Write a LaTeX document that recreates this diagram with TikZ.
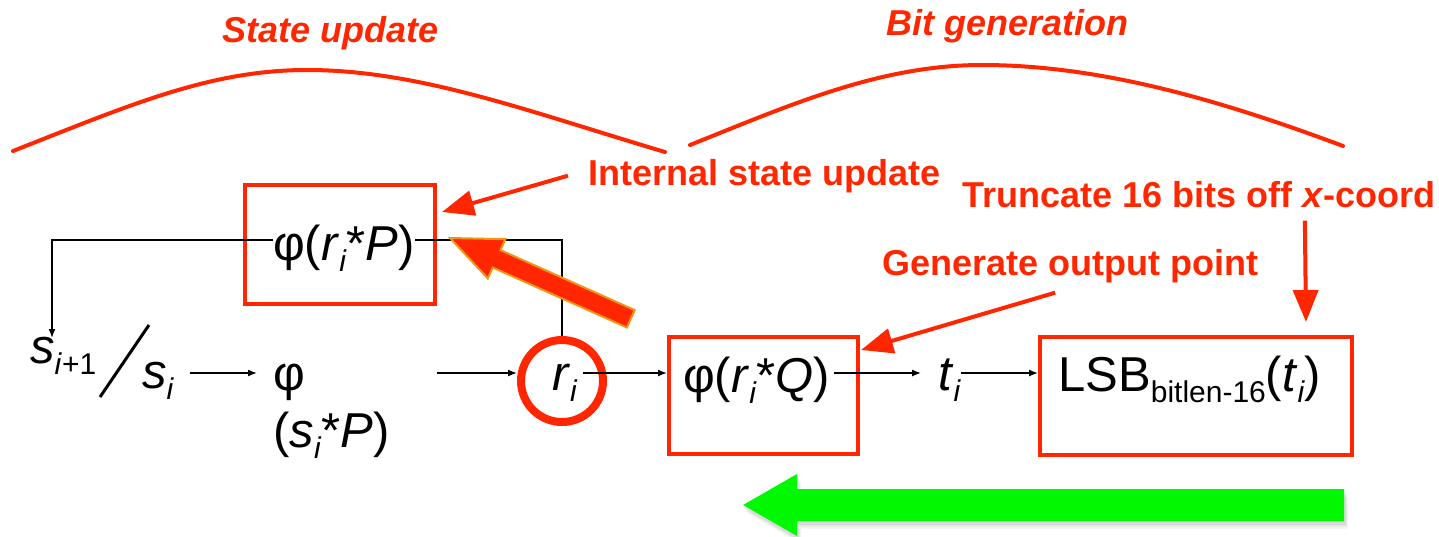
\documentclass[tikz,border=0pt]{standalone}
\usepackage{fontspec}
\setmainfont{Liberation Sans}
\usetikzlibrary{arrows.meta,calc}
\definecolor{ared}{RGB}{255,38,0}
\definecolor{agreen}{RGB}{0,249,0}
\definecolor{aorange}{RGB}{236,150,20}
\newcommand\mysub[1]{\raisebox{-11pt}{\fontsize{30}{30}\selectfont #1}}
\begin{document}
\begin{tikzpicture}[x=1pt,y=-1pt,
  txt/.style={inner sep=0pt, anchor=base west, font=\fontsize{49}{56}\selectfont},
  note/.style={inner sep=0pt, anchor=base west, text=ared, font=\fontsize{36}{42}\selectfont\bfseries},
  notei/.style={note, font=\fontsize{36}{42}\selectfont\bfseries\itshape},
  box/.style={draw=ared, line width=4pt, inner sep=0pt},
  conn/.style={line width=1.4pt, -{Latex[length=9pt,width=7pt]}},
  callout/.style={draw=ared, line width=4pt, -{Triangle[length=32pt,width=25pt]}},
  bump/.style={draw=ared, line width=4pt, line cap=round}]
\useasboundingbox (0,0) rectangle (1439,536);

% section labels and bumps
\node[notei] (lblSU) at (222,42) {State update};
\node[notei] (lblBG) at (886,35) {Bit generation};
\draw[bump] (13,151) .. controls (130,105) and (210,70) .. (307,70) .. controls (420,70) and (530,112) .. (665,152);
\draw[bump] (690,145) .. controls (790,105) and (880,65) .. (982,65) .. controls (1100,65) and (1220,100) .. (1343,146);

% coordinates
\coordinate (row) at (0,373);
\coordinate (sipTop) at (52,338);

% boxes and ring
\node[box, minimum width=190pt, minimum height=119pt] (boxA) at (340,244.5) {};
\node[box, minimum width=189pt, minimum height=117pt] (boxB) at (763.5,395.5) {};
\node[box, minimum width=312pt, minimum height=118pt] (boxC) at (1196,396) {};
\node[circle, draw=ared, line width=8pt, minimum size=82pt, inner sep=0pt] (ring) at (562,381) {};

% black texts
\node[txt] (sip) at (30,363) {\textit{s}\mysub{\textit{i}+1}};
\draw[line width=3pt] (100,397) -- (149,325);
\node[txt] (si) at (142,388) {\textit{s}\mysub{\textit{i}}};
\node[txt] (phiS) at (273,390) {φ};
\node[txt] (phiSarg) at (273,447) {(\textit{s}\mysub{\textit{i}}*\textit{P})};
\node[txt] (ri) at (552,390) {\textit{r}\mysub{\textit{i}}};
\node[txt] (phiQ) at (683,392) {φ(\textit{r}\mysub{\textit{i}}*\textit{Q})};
\node[txt] (ti) at (938,390) {\textit{t}\mysub{\textit{i}}};
\node[txt] (lsb) at (1058,391) {LSB\mysub{bitlen-16}(\textit{t}\mysub{\textit{i}})};

% feedback loop
\draw[conn] (ring.north) -- ++(0,-96) -| (sipTop);
\node[txt, fill=white] (phiP) at (273,260) {φ(\textit{r}\mysub{\textit{i}}*\textit{P})};

% row connectors
\draw[conn] ($(si.east|-row)+(16,0)$) -- ($(phiS.west|-row)+(-16,0)$);
\draw[conn] ($(ring.west|-row)+(-80,0)$) -- (ring.west|-row);
\draw[conn] ($(ring.center|-row)+(21,0)$) -- (boxB.west|-row);
\draw[conn] ($(phiQ.east|-row)+(4,0)$) -- ($(ti.west|-row)+(-17,0)$);
\draw[conn] (ti.east|-row) -- (boxC.west|-row);

% annotations
\node[note] (lblISU) at (588,185) {Internal state update};
\node[note] (lblT) at (962,207) {Truncate 16 bits off \textit{x}-coord};
\node[note] (lblGOP) at (882,275) {Generate output point};
\draw[callout] ($(lblISU.west)+(-20,0)$) -- ($(boxA.north east)+(5,29)$);
\draw[callout] ($(lblGOP.south)+(-15,10)$) -- ($(boxB.north east)+(1,15)$);
\draw[callout] ($(lblT.south)+(106,13)$) -- ($(boxC.north)+(110,-13)$);

% big orange arrow
\draw[fill=ared, draw=aorange, line width=2pt] (450,238) -- (505.4,239.2) -- (500.5,250.1) -- (634.7,310.1) -- (626.9,327.5) -- (492.7,267.5) -- (487.8,278.4) -- cycle;

% green arrow with soft shadow
\foreach \o/\a in {8/0.04,6/0.05,4/0.07}{
  \fill[black, opacity=\a] ($(743,505)+(\o*0.5,\o)$) -- ($(797,474)+(\o*0.5,\o)$) -- ($(797,489)+(\o*0.5,\o)$) -- ($(1344,489)+(\o*0.5,\o)$) -- ($(1344,521)+(\o*0.5,\o)$) -- ($(797,521)+(\o*0.5,\o)$) -- ($(797,536)+(\o*0.5,\o)$) -- cycle;
}
\fill[agreen] (743,505) -- (797,474) -- (797,489) -- (1344,489) -- (1344,521) -- (797,521) -- (797,536) -- cycle;
\end{tikzpicture}
\end{document}
